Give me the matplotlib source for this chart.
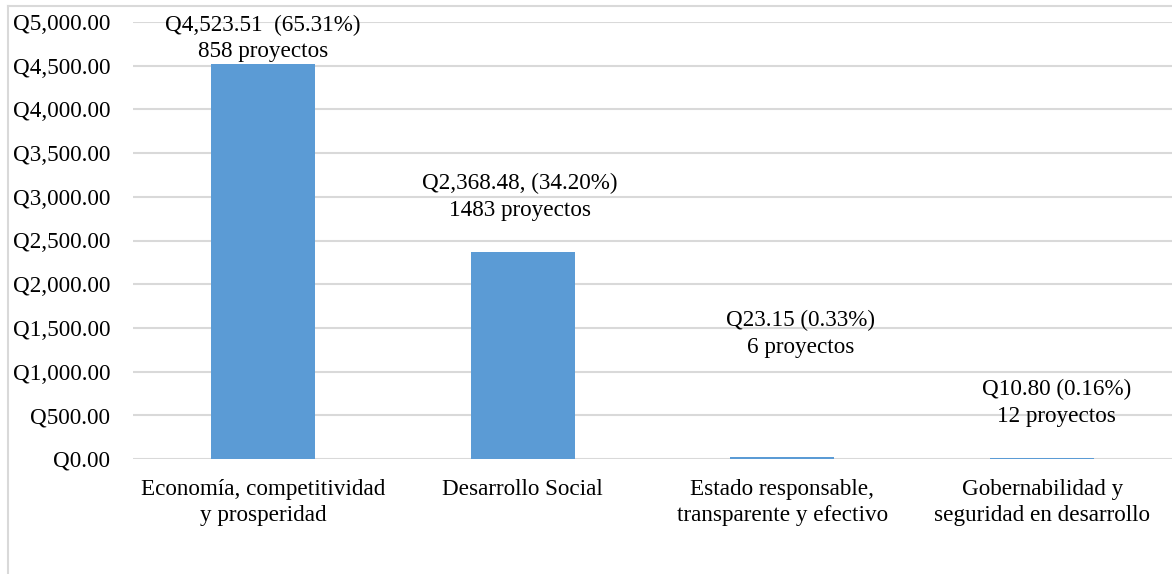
import matplotlib
matplotlib.use("Agg")
import matplotlib.pyplot as plt
from matplotlib.lines import Line2D

categories = ["Economía, competitividad\ny prosperidad",
              "Desarrollo Social",
              "Estado responsable,\ntransparente y efectivo",
              "Gobernabilidad y\nseguridad en desarrollo"]
values = [4523.51, 2368.48, 23.15, 10.80]
label_texts = ["Q4,523.51  (65.31%)\n858 proyectos",
               "Q2,368.48, (34.20%)\n1483 proyectos",
               "Q23.15 (0.33%)\n6 proyectos",
               "Q10.80 (0.16%)\n12 proyectos"]
yticks = [0, 500, 1000, 1500, 2000, 2500, 3000, 3500, 4000, 4500, 5000]

# label placement (layout, data units)
label_y = [4810, 3000, 1430, 640]
label_dx = [0.0, -0.01, 0.07, 0.055]

plt.rcParams['font.family'] = ['Liberation Serif', 'DejaVu Serif']
FS = 16.7
LS = 1.33

fig = plt.figure(figsize=(11.72, 5.74), dpi=100)
ax = fig.add_axes([133/1172, 115/574, 1 - 133/1172, (459-22)/574])

x = list(range(len(categories)))
ax.bar(x, values, width=0.4, color="#5B9BD5", zorder=3)
ax.set_xlim(-0.5, len(categories) - 0.5)
ax.set_ylim(0, 5000)
ax.set_yticks(yticks)
ax.set_yticklabels([f"Q{v:,.2f}" for v in yticks], fontsize=FS)
ax.set_xticks(x)
ax.set_xticklabels(categories, fontsize=FS, linespacing=LS)
ax.tick_params(axis='both', length=0)
ax.tick_params(axis='y', pad=16.5)
ax.tick_params(axis='x', pad=14.5)
ax.grid(axis='y', color="#d9d9d9", linewidth=1.5, zorder=0)
for s in ax.spines.values():
    s.set_visible(False)

for i, (t, ly, dx) in enumerate(zip(label_texts, label_y, label_dx)):
    ax.text(i + dx, ly, t, ha='center', va='center', fontsize=FS,
            linespacing=LS, zorder=4)

# chart frame
fig.add_artist(Line2D([7.5/1172, 7.5/1172], [0, 1 - 6/574], transform=fig.transFigure,
                      color="#d9d9d9", linewidth=1.5))
fig.add_artist(Line2D([7.5/1172, 1], [1 - 6/574, 1 - 6/574], transform=fig.transFigure,
                      color="#d9d9d9", linewidth=1.5))

fig.savefig("out.png", dpi=100)
